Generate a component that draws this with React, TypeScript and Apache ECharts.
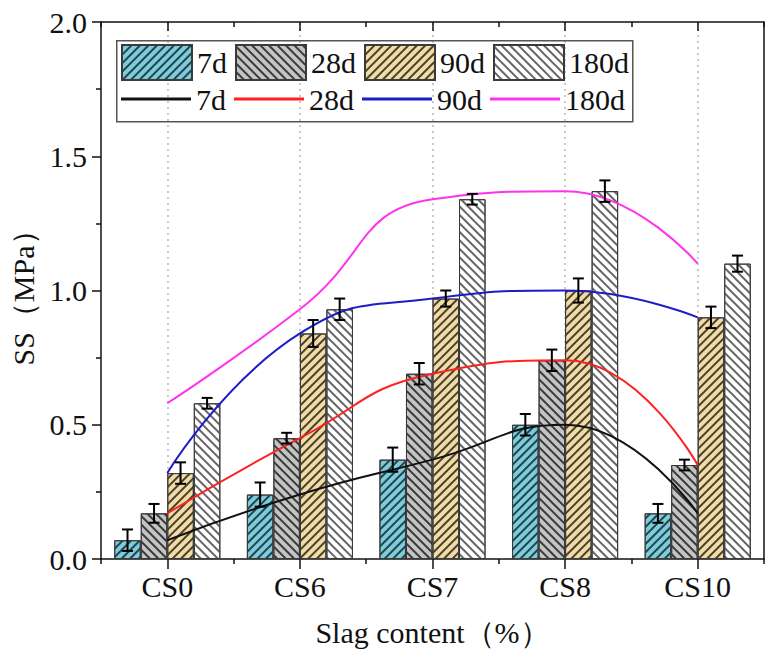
import React, { useEffect, useRef } from "react";
import * as echarts from "echarts";

const categories = ["CS0", "CS6", "CS7", "CS8", "CS10"];
const ss7d = [0.07, 0.24, 0.37, 0.5, 0.17];
const ss28d = [0.17, 0.45, 0.69, 0.74, 0.35];
const ss90d = [0.32, 0.84, 0.97, 1.0, 0.9];
const ss180d = [0.58, 0.93, 1.34, 1.37, 1.1];
const err7d = [0.04, 0.045, 0.045, 0.04, 0.035];
const err28d = [0.035, 0.02, 0.04, 0.04, 0.02];
const err90d = [0.04, 0.05, 0.03, 0.045, 0.04];
const err180d = [0.02, 0.04, 0.02, 0.04, 0.03];
const ageNames = ["7d", "28d", "90d", "180d"];
const yTicks = [0, 0.5, 1.0, 1.5, 2.0];

const FONT = "Liberation Serif";

export default function App() {
  const ref = useRef<HTMLDivElement>(null);
  useEffect(() => {
    if (!ref.current) return;
    const chart = echarts.init(ref.current, null, { renderer: "svg" });
    const values = [ss7d, ss28d, ss90d, ss180d];
    const errs = [err7d, err28d, err90d, err180d];
    const fills = ["#7cccdc", "#c4c4c4", "#f1dca6", "#ffffff"];
    const hatch = ["#24444c", "#3a3a3a", "#4a4030", "#666666"];
    const rots = [-Math.PI / 4, Math.PI / 4, -Math.PI / 4, Math.PI / 4];
    const lineColors = ["#111111", "#ff2020", "#1c1cc8", "#ff33ee"];

    const barSeries = ageNames.map((n, i) => ({
      type: "bar",
      name: n,
      xAxisIndex: 0,
      yAxisIndex: 0,
      data: values[i],
      barGap: "0%",
      barCategoryGap: "20%",
      z: 2,
      itemStyle: {
        color: fills[i],
        borderColor: "#3a3a3a",
        borderWidth: 1,
        decal: {
          symbol: "rect",
          symbolSize: 1,
          color: hatch[i],
          dashArrayX: [1, 0],
          dashArrayY: [1.1, 3.4],
          rotation: rots[i],
        },
      },
    }));

    const lineSeries = ageNames.map((n, i) => ({
      type: "line",
      name: n + " fit",
      xAxisIndex: 0,
      yAxisIndex: 0,
      data: values[i],
      smooth: 0.5,
      symbol: "none",
      z: 5,
      lineStyle: { color: lineColors[i], width: 2 },
      itemStyle: { color: lineColors[i] },
    }));

    const errSeries = ageNames.map((n, idx) => ({
      type: "custom",
      name: n + " err",
      xAxisIndex: 0,
      yAxisIndex: 0,
      z: 8,
      encode: { x: 0, y: 1 },
      data: categories.map((c, k) => [k, values[idx][k], errs[idx][k]]),
      renderItem: (params: any, api: any) => {
        const ci = api.value(0);
        const v = api.value(1);
        const e = api.value(2);
        const band = api.size([1, 0])[0];
        const bw = (band * 0.8) / 4;
        const c = api.coord([ci, v]);
        const x = c[0] + (idx - 1.5) * bw;
        const top = api.coord([ci, v + e])[1];
        const bot = api.coord([ci, v - e])[1];
        const hw = 5.5;
        const st = { stroke: "#000", lineWidth: 2 };
        return {
          type: "group",
          children: [
            { type: "line", shape: { x1: x, y1: top, x2: x, y2: bot }, style: st },
            { type: "line", shape: { x1: x - hw, y1: top, x2: x + hw, y2: top }, style: st },
            { type: "line", shape: { x1: x - hw, y1: bot, x2: x + hw, y2: bot }, style: st },
          ],
        };
      },
    }));

    const gridHelper = {
      type: "line",
      name: "grid",
      data: [],
      xAxisIndex: 0,
      yAxisIndex: 0,
      z: 0,
      markLine: {
        silent: true,
        z: 0,
        symbol: "none",
        label: { show: false },
        lineStyle: { color: "#b8b8b8", type: [2, 4], width: 1.5 },
        data: categories.map((c) => ({ xAxis: c })),
      },
    };

    const axisLine = { show: true, lineStyle: { color: "#111", width: 1.5 } };
    const txt = { fontSize: 30, fontFamily: FONT, color: "#111" };

    chart.setOption({
      animation: false,
      backgroundColor: "#fff",
      grid: { left: 101, right: 12, top: 22, bottom: 107, containLabel: false },
      graphic: [
        {
          type: "rect",
          left: 116,
          top: 40,
          shape: { width: 516, height: 81 },
          style: { fill: "rgba(0,0,0,0)", stroke: "#555", lineWidth: 1.5 },
          z: 1,
        },
      ],
      legend: [
        {
          data: ageNames,
          left: 121,
          top: 44,
          padding: 0,
          icon: "rect",
          itemWidth: 70,
          itemHeight: 35,
          itemGap: 8,
          selectedMode: false,
          textStyle: txt,
        },
        {
          data: ageNames.map((n) => n + " fit"),
          left: 121,
          top: 84,
          padding: 0,
          icon: "rect",
          itemWidth: 70,
          itemHeight: 3,
          itemGap: 8,
          selectedMode: false,
          formatter: (n: string) => n.replace(" fit", ""),
          textStyle: txt,
        },
      ],
      xAxis: [
        {
          type: "category",
          data: categories,
          position: "bottom",
          axisLine,
          axisTick: { show: true, alignWithLabel: true, length: 10, lineStyle: { color: "#111", width: 1.5 } },
          axisLabel: { ...txt, margin: 12 },
          splitLine: { show: false },
          name: "Slag content（%）",
          nameLocation: "middle",
          nameGap: 58,
          nameTextStyle: txt,
        },
        {
          type: "category",
          data: categories,
          position: "bottom",
          axisLine: { show: false },
          axisTick: { show: true, length: 5, lineStyle: { color: "#111", width: 1.5 } },
          axisLabel: { show: false },
          splitLine: { show: false },
        },
        {
          type: "category",
          data: categories,
          position: "top",
          axisLine,
          axisTick: { show: true, inside: true, alignWithLabel: true, length: 9, lineStyle: { color: "#111", width: 1.5 } },
          axisLabel: { show: false },
          splitLine: { show: false },
        },
        {
          type: "category",
          data: categories,
          position: "top",
          axisLine: { show: false },
          axisTick: { show: true, inside: true, length: 5, lineStyle: { color: "#111", width: 1.5 } },
          axisLabel: { show: false },
          splitLine: { show: false },
        },
      ],
      yAxis: [
        {
          type: "value",
          min: yTicks[0],
          max: yTicks[yTicks.length - 1],
          interval: 0.5,
          position: "left",
          axisLine,
          axisTick: { show: true, length: 9, lineStyle: { color: "#111", width: 1.5 } },
          minorTick: { show: true, splitNumber: 2, length: 5, lineStyle: { color: "#111", width: 1.5 } },
          axisLabel: { ...txt, margin: 14, formatter: (v: number) => v.toFixed(1) },
          splitLine: { show: false },
          name: "SS（MPa）",
          nameLocation: "middle",
          nameGap: 58,
          nameTextStyle: txt,
        },
        {
          type: "value",
          min: yTicks[0],
          max: yTicks[yTicks.length - 1],
          interval: 0.5,
          position: "right",
          axisLine,
          axisTick: { show: false },
          axisLabel: { show: false },
          splitLine: { show: false },
        },
      ],
      series: [gridHelper, ...barSeries, ...lineSeries, ...errSeries],
    });
    return () => chart.dispose();
  }, []);
  return <div ref={ref} style={{ width: 776, height: 666, margin: -8 }} />;
}
